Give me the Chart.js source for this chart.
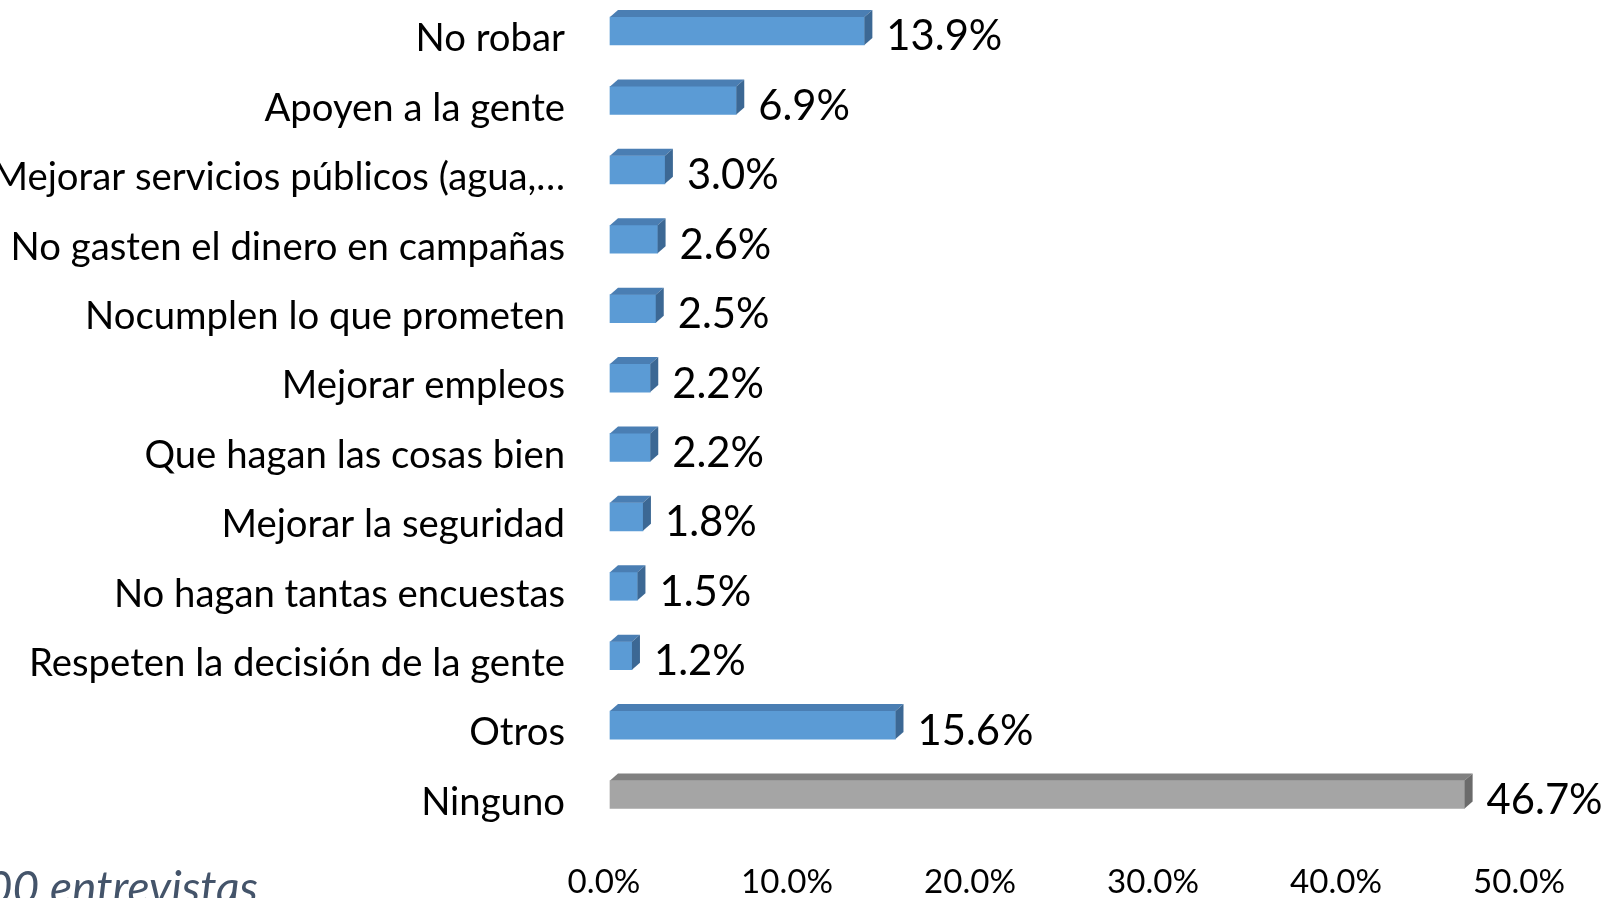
<!DOCTYPE html>
<html><head><meta charset="utf-8">
<script src="https://cdn.jsdelivr.net/npm/chart.js@4.4.1/dist/chart.umd.min.js"></script>
<style>html,body{margin:0;padding:0;background:#fff;overflow:hidden}#wrap{position:relative;width:1610px;height:898px}</style>
</head><body><div id="wrap"><canvas id="c" width="1610" height="898"></canvas></div>
<script>
const categories = ["No robar","Apoyen a la gente","Mejorar servicios públicos (agua,…","No gasten el dinero en campañas","Nocumplen lo que prometen","Mejorar empleos","Que hagan las cosas bien","Mejorar la seguridad","No hagan tantas encuestas","Respeten la decisión de la gente","Otros","Ninguno"];
const values = [13.9,6.9,3.0,2.6,2.5,2.2,2.2,1.8,1.5,1.2,15.6,46.7];
const xTickValues = [0,10,20,30,40,50];
const footnote = "00 entrevistas";

const FAMILY = 'Lato, "Open Sans", sans-serif';
const BLUE = {front:'#5B9BD5', top:'#4A7EB3', side:'#3C6894'};
const GRAY = {front:'#A5A5A5', top:'#808080', side:'#6B6B6B'};
const DX = 8, DY = 7;

function fitSize(text, target, style){
  const c = document.createElement('canvas').getContext('2d');
  c.font = (style||'') + ' 100px ' + FAMILY;
  return 100 * target / c.measureText(text).width;
}
const catSize = fitSize("Respeten la decisión de la gente", 536);
const tickSize = fitSize("50.0%", 92);
const valSize = fitSize("46.7%", 116);
const footSize = fitSize("entrevistas", 208, 'italic');
const isGray = i => i === values.length - 1;

const threeD = {
  id:'threeD',
  afterDatasetsDraw(chart){
    const ctx = chart.ctx;
    const meta = chart.getDatasetMeta(0);
    meta.data.forEach((el, i) => {
      const col = isGray(i) ? GRAY : BLUE;
      const top = el.y - el.height/2, bot = el.y + el.height/2;
      const x0 = el.base, x1 = el.x;
      ctx.save();
      ctx.fillStyle = col.top;
      ctx.beginPath();
      ctx.moveTo(x0, top); ctx.lineTo(x0+DX, top-DY); ctx.lineTo(x1+DX, top-DY); ctx.lineTo(x1, top); ctx.closePath(); ctx.fill();
      ctx.fillStyle = col.side;
      ctx.beginPath();
      ctx.moveTo(x1, top); ctx.lineTo(x1+DX, top-DY); ctx.lineTo(x1+DX, bot-DY); ctx.lineTo(x1, bot); ctx.closePath(); ctx.fill();
      ctx.fillStyle = '#000';
      ctx.font = valSize + 'px ' + FAMILY;
      ctx.textAlign = 'left'; ctx.textBaseline = 'middle';
      ctx.fillText(values[i].toFixed(1) + '%', x1 + 22, el.y + 6);
      ctx.restore();
    });
  },
  afterDraw(chart){
    const ctx = chart.ctx;
    ctx.save();
    ctx.font = 'italic ' + footSize + 'px ' + FAMILY;
    ctx.fillStyle = '#44546A';
    ctx.textAlign = 'right'; ctx.textBaseline = 'alphabetic';
    ctx.fillText(footnote, 258, 904);
    ctx.restore();
  }
};

new Chart(document.getElementById('c'), {
  type:'bar',
  data:{labels:categories, datasets:[{
    data:values,
    backgroundColor: values.map((v,i)=> isGray(i) ? GRAY.front : BLUE.front),
    borderWidth:0, barThickness:28, clip:false
  }]},
  options:{
    indexAxis:'y', responsive:false, animation:false,
    layout:{padding:{top:31, bottom:0, left:0, right:85}},
    plugins:{legend:{display:false}, tooltip:{enabled:false}, title:{display:false}},
    scales:{
      x:{
        min:0, max:50, offset:false,
        grid:{display:false, drawTicks:false}, border:{display:false},
        afterBuildTicks: s => { s.ticks = xTickValues.map(v => ({value:v})); },
        ticks:{callback:v => Number(v).toFixed(1) + '%', font:{family:FAMILY, size:tickSize}, color:'#000', padding:68, labelOffset:-6, maxRotation:0, autoSkip:false},
        afterFit: s => { s.height = 103.5; s.paddingLeft = 0; s.paddingRight = 0; }
      },
      y:{
        offset:false,
        grid:{display:false, drawTicks:false}, border:{display:false},
        ticks:{font:{family:FAMILY, size:catSize}, color:'#000', padding:45, labelOffset:8, autoSkip:false},
        afterFit: s => { s.width = 610; s.paddingTop = 0; s.paddingBottom = 0; }
      }
    }
  },
  plugins:[threeD]
});
</script></body></html>
